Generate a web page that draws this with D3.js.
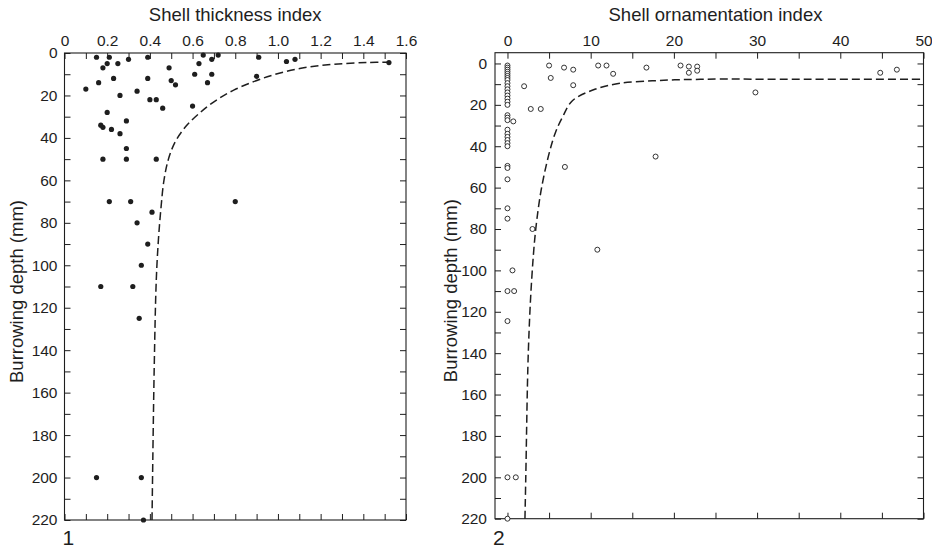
<!DOCTYPE html>
<html>
<head>
<meta charset="utf-8">
<script src="https://cdn.jsdelivr.net/npm/d3@7"></script>
<style>
  html, body { margin: 0; padding: 0; background: #fff; }
  svg { display: block; font-family: "Liberation Sans", Arial, Helvetica, sans-serif; }
</style>
</head>
<body>
<svg id="chart" width="932" height="549"></svg>
<script>
// ---------- Panel 1: Shell thickness index vs burrowing depth ----------
const thickX = [0.15,0.21,0.20,0.18,0.25,0.30,0.39,0.49,0.65,0.63,0.69,0.72,0.91,1.04,1.08,1.52,
                0.10,0.16,0.23,0.26,0.34,0.39,0.50,0.52,0.61,0.69,0.67,0.90,0.40,0.43,0.46,0.60,
                0.20,0.29,0.17,0.18,0.22,0.26,0.29,0.18,0.29,0.43,0.21,0.31,0.80,0.41,0.34,0.39,
                0.36,0.17,0.32,0.35,0.15,0.36,0.37];
const thickDepth = [2,2,5,7,5,3,2,7,1,5,3,1,2,4,3,4.5,
                    17,14,12,20,18,12,13,15,10,10,14,11,22,22,26,25,
                    28,32,34,35,36,38,45,50,50,50,70,70,70,75,80,90,
                    100,110,110,125,200,200,220];
const thickCurveX = [0.41,0.42,0.43,0.44,0.452,0.466,0.487,0.518,0.565,0.625,0.70,0.795,0.95,1.108,1.264,1.42,1.53];
const thickCurveDepth = [220,150,107,88,73,60,50,42,35,29,23,17.4,11.2,7.2,5.3,4.5,4.3];
const thickMajorTicks = [0,0.2,0.4,0.6,0.8,1.0,1.2,1.4,1.6];
const thickMinorTicks = [0.1,0.3,0.5,0.7,0.9,1.1,1.3,1.5];

// ---------- Panel 2: Shell ornamentation index vs burrowing depth ----------
const ornX = [0,0,0,0,0,0,0,0,0,0,0,0,0,0,0,0,
              0,0,0,0,0,0,0,0,0,0,0,0,0,0,0,0,0,0,
              0.7,2,2.8,4,5,5.2,6.8,7.9,7.9,10.9,11.9,12.7,16.7,20.8,21.8,21.8,22.8,22.8,
              29.8,44.8,46.8,6.9,17.8,3,10.8,0.6,0.8,1];
const ornDepth = [1,2,3,4,5,6,7,8,9.5,11,12.5,14,15.5,17,18.5,20,
                  25,26.2,27.4,32,34,35.5,37,38.5,40,49.5,50.5,56,70,75,110,124.5,200,220,
                  28,11,22,22,1,7,2,3,10.5,1,1,5,2,1,1.5,4.5,1.5,3.5,
                  14,4.5,3,50,45,80,90,100,110,200];
const ornCurveX = [2.1,2.2,2.5,2.9,3.4,4.1,5.1,5.8,6.6,7.8,10.5,13.5,17.4,20.2,22.6,25.4,30.6,50];
const ornCurveDepth = [220,200,140,105,80,60,42,33,26,18,12.5,9.6,8.4,7.9,7.7,7.5,7.6,7.6];
const ornMajorTicks = [0,10,20,30,40,50];
const ornMinorTicks = [5,15,25,35,45];

// ---------- Shared depth ticks ----------
const depthMajorTicks = [0,20,40,60,80,100,120,140,160,180,200,220];
const depthMinorTicks = [10,30,50,70,90,110,130,150,170,190,210];

const titles = ["Shell thickness index", "Shell ornamentation index"];
const yTitle = "Burrowing depth (mm)";
const panelLabels = ["1", "2"];

const svg = d3.select("#chart");
const ink = "#1e1e1e";
const TICK = 6;

function drawPanel(cfg) {
  const g = svg.append("g");
  const x = cfg.x, y = cfg.y;
  const [x0, x1] = x.range();
  const [y0, y1] = y.range();

  function styleAxis(sel) {
    sel.select(".domain").remove();
    sel.selectAll(".tick line").attr("stroke", ink).attr("stroke-width", 1);
    sel.selectAll(".tick text").attr("fill", ink).style("font-size", "15.5px");
  }
  g.append("g").attr("transform", `translate(0,${y0})`)
    .call(d3.axisTop(x).tickValues(cfg.xMajor).tickSizeInner(-TICK).tickSizeOuter(0).tickPadding(7).tickFormat(cfg.xFmt))
    .call(styleAxis);
  g.append("g").attr("transform", `translate(0,${y0})`)
    .call(d3.axisTop(x).tickValues(cfg.xMinor).tickSizeInner(-TICK).tickSizeOuter(0).tickFormat(""))
    .call(styleAxis);
  g.append("g").attr("transform", `translate(0,${y1})`)
    .call(d3.axisBottom(x).tickValues(cfg.xBottom).tickSizeInner(-TICK).tickSizeOuter(0).tickFormat(""))
    .call(styleAxis);
  g.append("g").attr("transform", `translate(${x0},0)`)
    .call(d3.axisLeft(y).tickValues(depthMajorTicks).tickSizeInner(-TICK).tickSizeOuter(0).tickPadding(cfg.yPad).tickFormat(d3.format("d")))
    .call(styleAxis);
  g.append("g").attr("transform", `translate(${x0},0)`)
    .call(d3.axisLeft(y).tickValues(depthMinorTicks).tickSizeInner(-TICK).tickSizeOuter(0).tickFormat(""))
    .call(styleAxis);
  g.append("g").attr("transform", `translate(${x1},0)`)
    .call(d3.axisRight(y).tickValues(depthMajorTicks.concat(depthMinorTicks)).tickSizeInner(-TICK).tickSizeOuter(0).tickFormat(""))
    .call(styleAxis);

  g.append("rect").attr("x", x0).attr("y", y0).attr("width", x1 - x0).attr("height", y1 - y0)
    .attr("fill", "none").attr("stroke", ink).attr("stroke-width", 1.1);

  const line = d3.line().x(d => x(d[0])).y(d => y(d[1])).curve(d3.curveCatmullRom.alpha(0.5));
  const curvePts = cfg.curveX.map((v, i) => [v, cfg.curveY[i]]);
  g.append("path").attr("d", line(curvePts)).attr("fill", "none")
    .attr("stroke", ink).attr("stroke-width", 1.5).attr("stroke-dasharray", "8,4");

  const pts = cfg.px.map((v, i) => [v, cfg.py[i]]);
  g.append("g").selectAll("circle").data(pts).join("circle")
    .attr("cx", d => x(d[0])).attr("cy", d => y(d[1])).attr("r", cfg.filled ? 2.6 : 2.5)
    .attr("fill", cfg.filled ? ink : "#fff")
    .attr("stroke", ink).attr("stroke-width", cfg.filled ? 0 : 0.9);

  g.append("text").attr("x", cfg.titleX).attr("y", 21).attr("text-anchor", "middle")
    .attr("fill", ink).style("font-size", "18.5px").text(cfg.title);
  g.append("text").attr("transform", `translate(${cfg.yTitleX},${(y0 + y1) / 2 + 5}) rotate(-90)`)
    .attr("text-anchor", "middle").attr("fill", ink).style("font-size", "18.5px").text(yTitle);
  g.append("text").attr("x", x0 - 2).attr("y", 545).attr("fill", ink)
    .style("font-size", "21px").text(cfg.label);
}

const x1s = d3.scaleLinear().domain([0, 1.6]).range([64.5, 406]);
const y1s = d3.scaleLinear().domain([0, 220]).range([53, 520]);
drawPanel({
  x: x1s, y: y1s,
  xMajor: thickMajorTicks, xMinor: thickMinorTicks,
  xBottom: thickMajorTicks.concat(thickMinorTicks),
  xFmt: d => d === 0 ? "0" : d3.format(".1f")(d),
  yPad: 7,
  curveX: thickCurveX, curveY: thickCurveDepth,
  px: thickX, py: thickDepth, filled: true,
  title: titles[0], titleX: x1s(0.8), yTitleX: 22.5, label: panelLabels[0]
});

const x2s = d3.scaleLinear().domain([-1.5, 50]).range([495, 923.5]);
const y2s = d3.scaleLinear().domain([-5.2, 220]).range([52.7, 518.7]);
drawPanel({
  x: x2s, y: y2s,
  xMajor: ornMajorTicks, xMinor: ornMinorTicks,
  xBottom: ornMajorTicks.concat(ornMinorTicks),
  xFmt: d3.format("d"),
  yPad: 8,
  curveX: ornCurveX, curveY: ornCurveDepth,
  px: ornX, py: ornDepth, filled: false,
  title: titles[1], titleX: x2s(25), yTitleX: 456.5, label: panelLabels[1]
});
</script>
</body>
</html>
